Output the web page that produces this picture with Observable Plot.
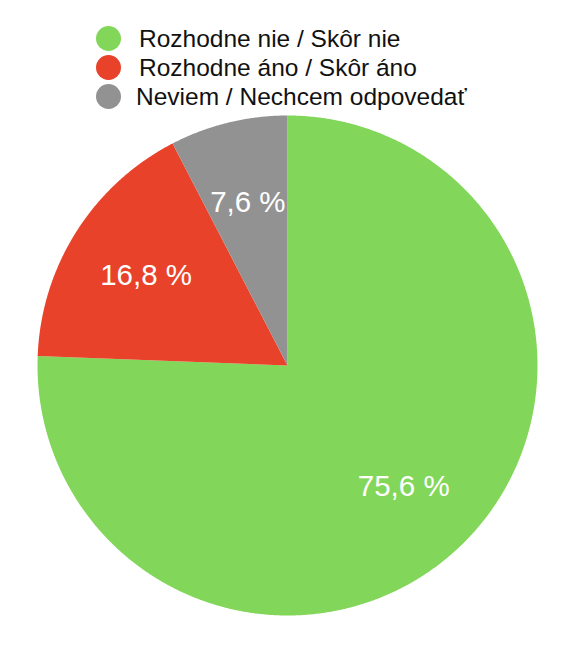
<!DOCTYPE html>
<html>
<head>
<meta charset="utf-8">
<script src="https://cdn.jsdelivr.net/npm/d3@7"></script>
<script src="https://cdn.jsdelivr.net/npm/@observablehq/plot@0.6"></script>
<style>
  html, body { margin: 0; padding: 0; background: #fff; }
  #legend { position: relative; width: 576px; height: 110px; font-family: "Liberation Sans", Arial, sans-serif; }
  .item { position: absolute; left: 0; height: 26px; width: 576px; }
  .sw { position: absolute; left: 95.5px; top: 0; width: 25px; height: 25px; border-radius: 50%; }
  .lab { position: absolute; top: 0; line-height: 25px; font-size: 24.5px; color: #111; white-space: nowrap; }
  #chart svg { display: block; }
</style>
</head>
<body>
<div id="legend"></div>
<div id="chart"></div>
<script>
const categories = ["Rozhodne nie / Skôr nie", "Rozhodne áno / Skôr áno", "Neviem / Nechcem odpovedať"];
const values = [75.6, 16.8, 7.6];
const valueLabels = ["75,6 %", "16,8 %", "7,6 %"];
const colors = ["#82d75a", "#e8422a", "#929292"];

// Legend (HTML, above the SVG)
const legend = document.getElementById("legend");
const rowTops = [25.5, 54.5, 83.5];
const textLefts = [139, 139, 136];
categories.forEach((c, i) => {
  const it = document.createElement("div");
  it.className = "item";
  it.style.top = rowTops[i] + "px";
  const sw = document.createElement("div");
  sw.className = "sw";
  sw.style.background = colors[i];
  const lab = document.createElement("div");
  lab.className = "lab";
  lab.style.left = textLefts[i] + "px";
  lab.textContent = c;
  it.appendChild(sw);
  it.appendChild(lab);
  legend.appendChild(it);
});

// Pie geometry from data
const arcs = d3.pie().sort(null)(values);
const slices = arcs.map((a, i) => {
  const pts = [{x: 0, y: 0}];
  const n = Math.max(2, Math.ceil((a.endAngle - a.startAngle) / 0.005));
  for (let k = 0; k <= n; k++) {
    const t = a.startAngle + (a.endAngle - a.startAngle) * k / n;
    pts.push({x: Math.sin(t), y: Math.cos(t)});
  }
  pts.push({x: 0, y: 0});
  return {pts, color: colors[i]};
});
const labelR = 0.67;
const labelData = arcs.map((a, i) => {
  const m = (a.startAngle + a.endAngle) / 2;
  return {x: labelR * Math.sin(m), y: labelR * Math.cos(m), text: valueLabels[i]};
});

const plot = Plot.plot({
  width: 576,
  height: 545,
  x: {type: "linear", domain: [-1, 1], range: [37, 537], axis: null},
  y: {type: "linear", domain: [-1, 1], range: [505, 5], axis: null},
  style: {fontFamily: "'Liberation Sans', Arial, sans-serif", background: "white"},
  marks: [
    ...slices.map(s => Plot.line(s.pts, {x: "x", y: "y", fill: s.color, stroke: "none", curve: "linear"})),
    Plot.text(labelData, {x: "x", y: "y", text: "text", fill: "white", fontSize: 29.5})
  ]
});
document.getElementById("chart").appendChild(plot);
</script>
</body>
</html>
